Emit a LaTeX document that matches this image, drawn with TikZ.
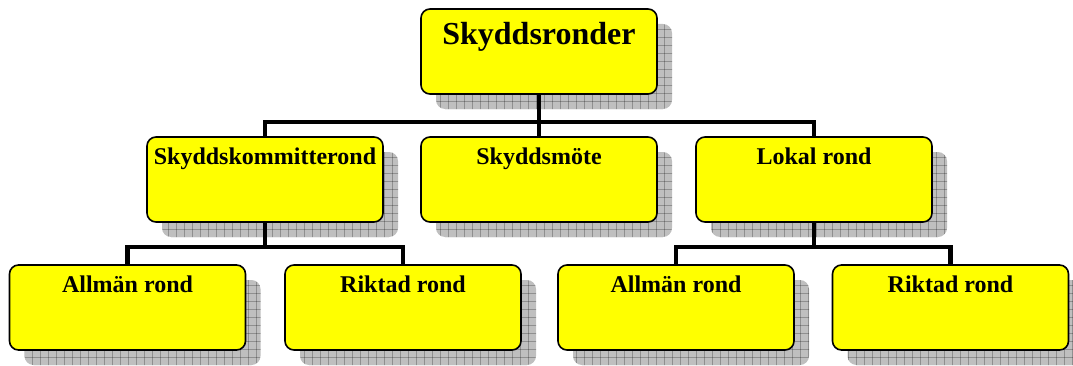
\documentclass[tikz,border=0pt]{standalone}
\usepackage{fontspec}
\setmainfont{Liberation Serif}
\usetikzlibrary{shadows,patterns,backgrounds}

\pgfdeclarepatternformonly{shadegrid}{\pgfqpoint{-1pt}{-1pt}}{\pgfqpoint{9pt}{9pt}}{\pgfqpoint{8pt}{8pt}}{%
  \pgfsetlinewidth{0.8pt}
  \pgfpathmoveto{\pgfqpoint{0pt}{0pt}}\pgfpathlineto{\pgfqpoint{8.1pt}{0pt}}
  \pgfpathmoveto{\pgfqpoint{0pt}{0pt}}\pgfpathlineto{\pgfqpoint{0pt}{8.1pt}}
  \pgfusepath{stroke}}

\definecolor{boxyellow}{RGB}{255,255,0}

\tikzset{
  box/.style={draw=black, line width=1.6pt, fill=boxyellow, rounded corners=9pt,
    minimum width=236pt, inner sep=0pt, text height=27pt, text depth=58pt,
    font=\fontsize{24}{26}\selectfont\bfseries,
    drop shadow={shadow xshift=15pt, shadow yshift=-15pt, fill=black, opacity=0.25},
    drop shadow={shadow xshift=15pt, shadow yshift=-15pt, pattern=shadegrid,
      pattern color=black, opacity=0.25}},
  topbox/.style={box, text height=36pt, text depth=49pt,
    font=\fontsize{32}{36}\selectfont\bfseries},
  link/.style={line width=4.5pt}
}

\begin{document}
\begin{tikzpicture}[x=1pt,y=1pt]
    \useasboundingbox (0,0) rectangle (1073,365);

    \node[topbox] (rond) at (539,313.5) {Skyddsronder};

    \node[box] (kom)  at (265,185.5) {Skyddskommitterond};
    \node[box] (mote) at (539,185.5) {Skyddsmöte};
    \node[box] (lok)  at (814,185.5) {Lokal rond};

    \node[box] (kall) at (127.5,57.5) {Allmän rond};
    \node[box] (krik) at (403,57.5)   {Riktad rond};
    \node[box] (lall) at (676,57.5)   {Allmän rond};
    \node[box] (lrik) at (950.5,57.5) {Riktad rond};

    \coordinate (j1) at (539,243);
    \coordinate (j2) at (265,118);
    \coordinate (j3) at (814,118);

    \begin{scope}[on background layer]
        \draw[link] (rond) -- (j1);
        \draw[link] (kom.north) |- (j1) -| (lok.north);
        \draw[link] (j1) -- (mote.north);
        \draw[link] (kom) -- (j2);
        \draw[link] (kall.north) |- (j2) -| (krik.north);
        \draw[link] (lok) -- (j3);
        \draw[link] (lall.north) |- (j3) -| (lrik.north);
    \end{scope}
\end{tikzpicture}
\end{document}
